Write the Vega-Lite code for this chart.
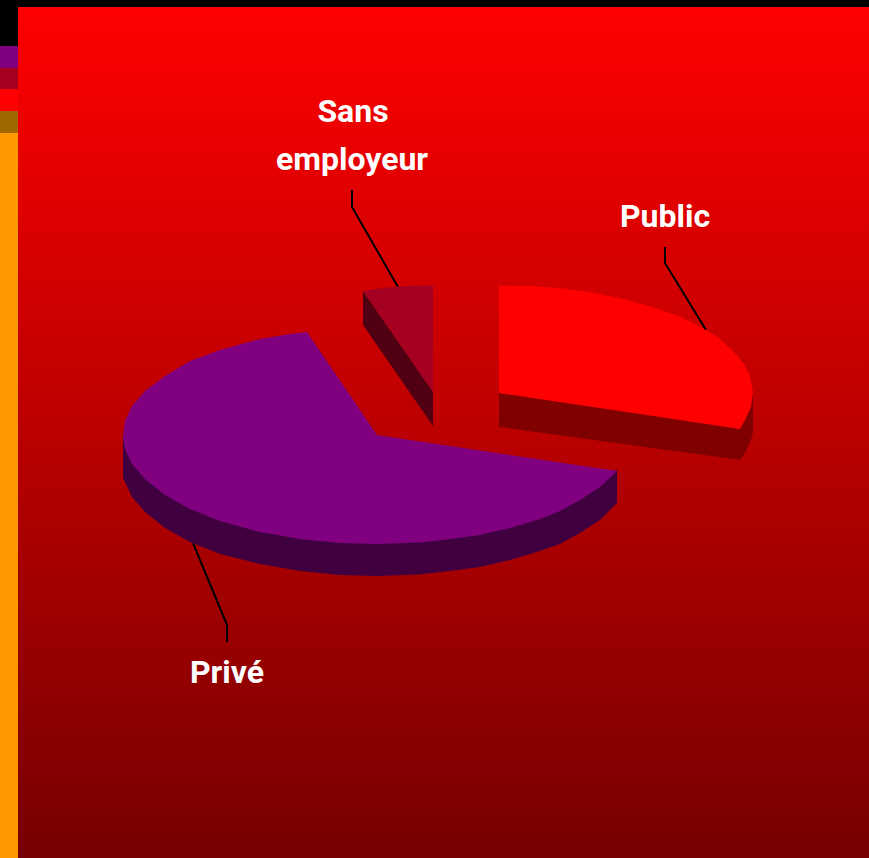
{"$schema":"https://vega.github.io/schema/vega-lite/v6.json","width":869,"height":858,"padding":0,"autosize":{"type":"fit","contains":"padding"},"background":"#000000","view":{"stroke":null},"config":{"view":{"stroke":null}},
"datasets":{
"panel":[{"x":18,"x2":869,"y":7,"y2":858}],
"key":[{"band":"Privé","x":0,"x2":18,"y":46,"y2":68},{"band":"Sans employeur","x":0,"x2":18,"y":68,"y2":89},{"band":"Public","x":0,"x2":18,"y":89,"y2":111},{"band":"Autre","x":0,"x2":18,"y":111,"y2":133},{"band":"Fond","x":0,"x2":18,"y":133,"y2":858}],
"outline":[
{"part":"sansSide","i":1,"x":363,"y":291},{"part":"sansSide","i":2,"x":433,"y":392},{"part":"sansSide","i":3,"x":433,"y":426},{"part":"sansSide","i":4,"x":363,"y":325},
{"part":"sansTop","i":1,"x":363,"y":291},{"part":"sansTop","i":2,"x":375,"y":289},{"part":"sansTop","i":3,"x":387,"y":287.5},{"part":"sansTop","i":4,"x":397,"y":286.5},{"part":"sansTop","i":5,"x":410,"y":286},{"part":"sansTop","i":6,"x":433,"y":285.5},{"part":"sansTop","i":7,"x":433,"y":392},
{"part":"publicSide","i":1,"x":499,"y":393},{"part":"publicSide","i":2,"x":740,"y":428},{"part":"publicSide","i":3,"x":753,"y":394},{"part":"publicSide","i":4,"x":753,"y":432},{"part":"publicSide","i":5,"x":751,"y":440},{"part":"publicSide","i":6,"x":745,"y":453},{"part":"publicSide","i":7,"x":740,"y":460},{"part":"publicSide","i":8,"x":499,"y":427},
{"part":"publicTop","i":1,"x":499,"y":285.5},{"part":"publicTop","i":2,"x":529,"y":286},{"part":"publicTop","i":3,"x":559,"y":288},{"part":"publicTop","i":4,"x":589,"y":292},{"part":"publicTop","i":5,"x":619,"y":298},{"part":"publicTop","i":6,"x":649,"y":306},{"part":"publicTop","i":7,"x":679,"y":316},{"part":"publicTop","i":8,"x":699,"y":326},{"part":"publicTop","i":9,"x":719,"y":338},{"part":"publicTop","i":10,"x":734,"y":352},{"part":"publicTop","i":11,"x":744,"y":364},{"part":"publicTop","i":12,"x":750,"y":376},{"part":"publicTop","i":13,"x":753,"y":393},{"part":"publicTop","i":14,"x":751,"y":407},{"part":"publicTop","i":15,"x":745,"y":420},{"part":"publicTop","i":16,"x":740,"y":429},{"part":"publicTop","i":17,"x":499,"y":393},
{"part":"priveSide","i":1,"x":123,"y":435},{"part":"priveSide","i":2,"x":123,"y":478},{"part":"priveSide","i":3,"x":125,"y":482},{"part":"priveSide","i":4,"x":132,"y":497},{"part":"priveSide","i":5,"x":145,"y":512},{"part":"priveSide","i":6,"x":165,"y":528},{"part":"priveSide","i":7,"x":190,"y":542},{"part":"priveSide","i":8,"x":220,"y":554},{"part":"priveSide","i":9,"x":260,"y":564},{"part":"priveSide","i":10,"x":300,"y":571},{"part":"priveSide","i":11,"x":340,"y":575},{"part":"priveSide","i":12,"x":377,"y":576},{"part":"priveSide","i":13,"x":420,"y":574.5},{"part":"priveSide","i":14,"x":450,"y":571},{"part":"priveSide","i":15,"x":480,"y":567},{"part":"priveSide","i":16,"x":510,"y":560},{"part":"priveSide","i":17,"x":540,"y":551},{"part":"priveSide","i":18,"x":560,"y":544},{"part":"priveSide","i":19,"x":580,"y":533},{"part":"priveSide","i":20,"x":600,"y":520},{"part":"priveSide","i":21,"x":617,"y":503},{"part":"priveSide","i":22,"x":617,"y":470},{"part":"priveSide","i":23,"x":400,"y":500},
{"part":"priveTop","i":1,"x":307,"y":332},{"part":"priveTop","i":2,"x":377,"y":435},{"part":"priveTop","i":3,"x":617,"y":471},{"part":"priveTop","i":4,"x":600,"y":487},{"part":"priveTop","i":5,"x":580,"y":500},{"part":"priveTop","i":6,"x":560,"y":511},{"part":"priveTop","i":7,"x":540,"y":519},{"part":"priveTop","i":8,"x":510,"y":528},{"part":"priveTop","i":9,"x":480,"y":535},{"part":"priveTop","i":10,"x":450,"y":539},{"part":"priveTop","i":11,"x":420,"y":542.5},{"part":"priveTop","i":12,"x":377,"y":544},{"part":"priveTop","i":13,"x":340,"y":543},{"part":"priveTop","i":14,"x":300,"y":539},{"part":"priveTop","i":15,"x":260,"y":532},{"part":"priveTop","i":16,"x":220,"y":521},{"part":"priveTop","i":17,"x":190,"y":509},{"part":"priveTop","i":18,"x":165,"y":495},{"part":"priveTop","i":19,"x":145,"y":479},{"part":"priveTop","i":20,"x":132,"y":464},{"part":"priveTop","i":21,"x":125,"y":449},{"part":"priveTop","i":22,"x":123,"y":437},{"part":"priveTop","i":23,"x":125,"y":421},{"part":"priveTop","i":24,"x":132,"y":406},{"part":"priveTop","i":25,"x":145,"y":391},{"part":"priveTop","i":26,"x":165,"y":376},{"part":"priveTop","i":27,"x":190,"y":361},{"part":"priveTop","i":28,"x":220,"y":350},{"part":"priveTop","i":29,"x":260,"y":339},{"part":"priveTop","i":30,"x":290,"y":334}
],
"leaders":[
{"label":"Sans employeur","i":1,"x":352,"y":190},{"label":"Sans employeur","i":2,"x":352,"y":207},{"label":"Sans employeur","i":3,"x":398,"y":287},
{"label":"Public","i":1,"x":665,"y":247},{"label":"Public","i":2,"x":665,"y":263},{"label":"Public","i":3,"x":706,"y":330},
{"label":"Privé","i":1,"x":193,"y":543},{"label":"Privé","i":2,"x":227,"y":625},{"label":"Privé","i":3,"x":227,"y":642}
],
"labels":[{"text":"Sans","x":353,"y":122},{"text":"employeur","x":352,"y":170},{"text":"Public","x":665,"y":227},{"text":"Privé","x":227,"y":683}]
},
"encoding":{"x":{"field":"x","type":"quantitative","axis":null,"scale":{"domain":[0,869],"nice":false,"zero":false}},"y":{"field":"y","type":"quantitative","axis":null,"scale":{"domain":[858,0],"nice":false,"zero":false}}},
"layer":[
{"data":{"name":"panel"},"mark":{"type":"rect","color":{"gradient":"linear","x1":0,"y1":0,"x2":0,"y2":1,"stops":[{"offset":0,"color":"#ff0000"},{"offset":1,"color":"#760000"}]}},"encoding":{"x2":{"field":"x2"},"y2":{"field":"y2"}}},
{"data":{"name":"key"},"mark":{"type":"rect"},"encoding":{"x2":{"field":"x2"},"y2":{"field":"y2"},"fill":{"field":"band","type":"nominal","legend":null,"scale":{"domain":["Privé","Sans employeur","Public","Autre","Fond"],"range":["#800080","#a50021","#ff0000","#a06600","#ff9900"]}}}},
{"data":{"name":"leaders"},"mark":{"type":"line","stroke":"#000000","strokeWidth":2},"encoding":{"detail":{"field":"label"},"order":{"field":"i","type":"quantitative"}}},
{"data":{"name":"outline"},"transform":[{"filter":"datum.part==='sansSide'"}],"mark":{"type":"line","fill":"#500012","stroke":null},"encoding":{"order":{"field":"i","type":"quantitative"}}},
{"data":{"name":"outline"},"transform":[{"filter":"datum.part==='sansTop'"}],"mark":{"type":"line","fill":"#a50021","stroke":null},"encoding":{"order":{"field":"i","type":"quantitative"}}},
{"data":{"name":"outline"},"transform":[{"filter":"datum.part==='publicSide'"}],"mark":{"type":"line","fill":"#800000","stroke":null},"encoding":{"order":{"field":"i","type":"quantitative"}}},
{"data":{"name":"outline"},"transform":[{"filter":"datum.part==='publicTop'"}],"mark":{"type":"line","fill":"#ff0000","stroke":null},"encoding":{"order":{"field":"i","type":"quantitative"}}},
{"data":{"name":"outline"},"transform":[{"filter":"datum.part==='priveSide'"}],"mark":{"type":"line","fill":"#400040","stroke":null},"encoding":{"order":{"field":"i","type":"quantitative"}}},
{"data":{"name":"outline"},"transform":[{"filter":"datum.part==='priveTop'"}],"mark":{"type":"line","fill":"#800080","stroke":null},"encoding":{"order":{"field":"i","type":"quantitative"}}},
{"data":{"name":"labels"},"mark":{"type":"text","font":"Roboto","fontWeight":"bold","fontSize":32,"fill":"#ffffff","align":"center","baseline":"alphabetic"},"encoding":{"text":{"field":"text"}}}
]}
